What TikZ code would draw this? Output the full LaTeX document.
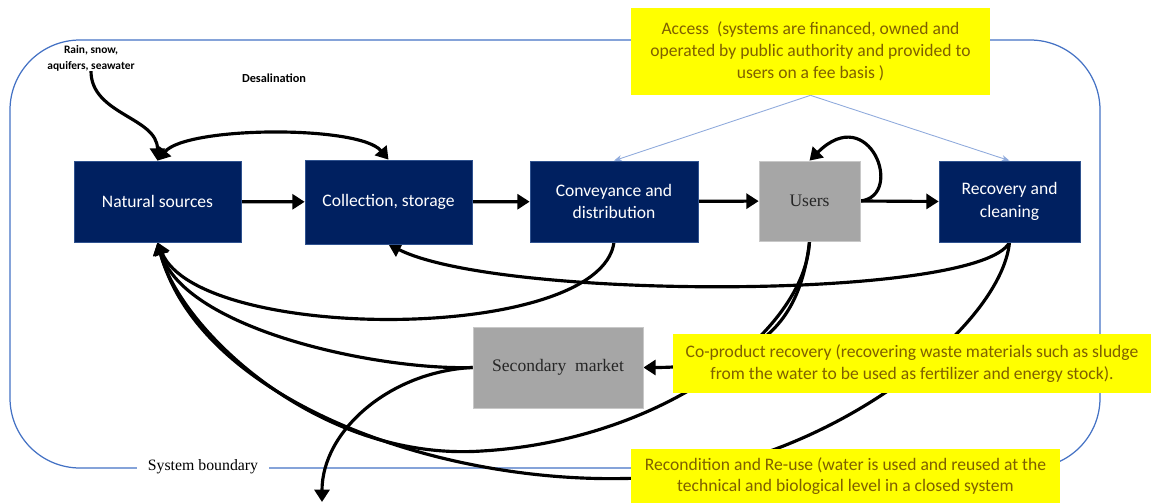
\documentclass[tikz,border=0pt]{standalone}
\usepackage{fontspec}
\setmainfont{Liberation Serif}
\newfontfamily\calibri{Carlito}
\usepackage{tikz}
\usetikzlibrary{arrows.meta, positioning, backgrounds}

\definecolor{boxnavy}{HTML}{002060}
\definecolor{navyedge}{HTML}{2F528F}
\definecolor{boxgray}{HTML}{A6A6A6}
\definecolor{grayedge}{HTML}{C8C8C8}
\definecolor{noteyellow}{HTML}{FFFF00}
\definecolor{noteolive}{HTML}{7F6000}
\definecolor{boundblue}{HTML}{4472C4}
\definecolor{accessblue}{HTML}{8FAADC}

\begin{document}
\begin{tikzpicture}[x=0.02cm, y=-0.02cm,
    navybox/.style={rectangle, fill=boxnavy, draw=navyedge, line width=0.4pt, text=white, font=\calibri\fontsize{10}{13}\selectfont, align=center, minimum width=3.34cm, minimum height=1.62cm, inner sep=0pt},
    graybox/.style={rectangle, fill=boxgray, draw=grayedge, line width=0.4pt, text=black!85, font=\fontsize{10}{12}\selectfont, minimum height=1.62cm, inner sep=0pt},
    notebox/.style={rectangle, fill=noteyellow, text=noteolive, font=\calibri\fontsize{10}{12.4}\selectfont, align=center, inner sep=0pt},
    tag/.style={font=\calibri\bfseries\fontsize{6.5}{9}\selectfont, align=center, inner sep=0pt},
    arrow/.style={-{Triangle[length=7pt, width=8.5pt]}, line width=1.8pt},
    link/.style={-{Stealth[length=4.5pt, width=3.5pt]}, draw=accessblue, line width=0.5pt}
]
\useasboundingbox (0,0) rectangle (1151,503);

% Main chain
\node[navybox] (nat) at (157.5,201.5) {Natural sources};
\node[navybox, minimum height=1.68cm] (coll) at (388.5,202) {Collection, storage};
\node[navybox, minimum width=3.36cm] (conv) at (614,201.5) {Conveyance and\\distribution};
\node[graybox, minimum width=2.02cm, minimum height=1.6cm] (users) at (809.5,201) {Users};
\node[navybox, minimum width=2.82cm] (rec) at (1009.5,201.5) {Recovery and\\cleaning};
\node[graybox, minimum width=3.4cm] (sec) at (558,367.5) {Secondary\ \ market};

% Notes
\node[notebox, minimum width=7.18cm, minimum height=1.74cm] (access) at (810.5,51.5) {Access\ \ (systems are financed, owned and\\operated by public authority and provided to\\users on a fee basis )};
\node[notebox, minimum width=9.56cm, minimum height=1.18cm] (coprod) at (912,363.5) {Co-product recovery (recovering waste materials such as sludge\\from the water to be used as fertilizer and energy stock).};
\node[notebox, minimum width=8.58cm, minimum height=1.08cm] (recond) at (845.5,476) {Recondition and Re-use (water is used and reused at the\\technical and biological level in a closed system};

% Small labels
\node[tag] (rain) at (91,58) {Rain, snow,\\aquifers, seawater};
\node[tag, font=\calibri\bfseries\fontsize{7}{9}\selectfont] (desal) at (274,78) {Desalination};
\node[fill=white, inner xsep=6pt, inner ysep=1pt, font=\fontsize{9}{11}\selectfont] (bound) at (203,467) {System boundary};

\coordinate (usersdip) at (482,451);
\coordinate (recdip) at (640,478);
\coordinate (outflow) at (322,502);

\begin{scope}[on background layer]
% System boundary
\draw[boundblue, line width=0.7pt, rounded corners=1.4cm] (10,40) rectangle (1100,468);

% Straight flows
\draw[arrow] (nat) -- (coll);
\draw[arrow] (coll) -- (conv);
\draw[arrow] (conv) -- (users);
\draw[arrow] (users.east) -- (rec.west);

% Inflow and desalination loop
\draw[arrow] (rain.south) to[out=-90, in=90] (nat.north);
\draw[arrow, {Triangle[length=7pt, width=8.5pt]}-{Triangle[length=7pt, width=8.5pt]}] (nat.north) to[out=50, in=130, looseness=0.5] (coll.north);
\draw[arrow] (users.east) .. controls +(45,-5) and +(60,-60) .. (users.north);

% Access links
\draw[link] (access.south) -- (conv.north);
\draw[link] (access.south) -- (rec.north);

% Return flows
\draw[arrow] (rec.south) .. controls +(-30,58) and +(111,56) .. (coll.south);
\draw[arrow] (conv.south) .. controls +(-14,101) and +(43,101) .. (nat.south);
\draw[arrow] (sec.west) .. controls +(-93,3) and +(28,88) .. (nat.south);
\draw[arrow] (sec.west) .. controls +(-83,4) and +(0,-71) .. (outflow);
\draw[arrow] (users.south) .. controls +(-4,89) and +(183,-11) .. (usersdip) .. controls +(-162,11) and +(23,88) .. (nat.south);
\draw[arrow] (rec.south) .. controls +(-9,88) and +(180,-8) .. (recdip) .. controls +(-200,9) and +(43,158) .. (nat.south);
\draw[arrow] (users.south) .. controls +(-9,79) and +(117,0) .. (sec.east);
\end{scope}

\end{tikzpicture}
\end{document}
